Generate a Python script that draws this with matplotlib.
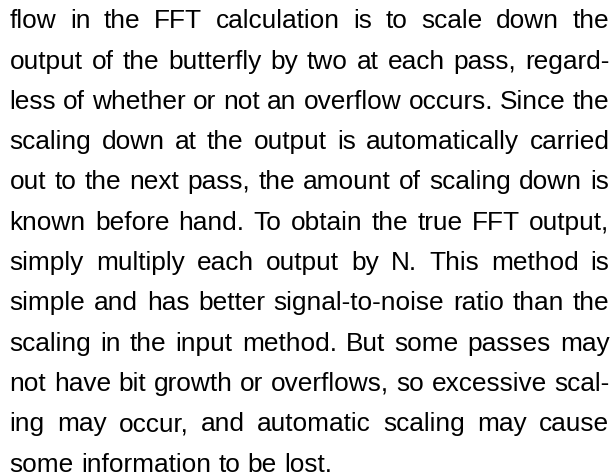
import matplotlib
matplotlib.use("Agg")
import matplotlib.pyplot as plt

lines = [
    "flow in the FFT calculation is to scale down the",
    "output of the butterfly by two at each pass, regard-",
    "less of whether or not an overflow occurs. Since the",
    "scaling down at the output is automatically carried",
    "out to the next pass, the amount of scaling down is",
    "known before hand. To obtain the true FFT output,",
    "simply multiply each output by N. This method is",
    "simple and has better signal-to-noise ratio than the",
    "scaling in the input method. But some passes may",
    "not have bit growth or overflows, so excessive scal-",
    "ing may occur, and automatic scaling may cause",
    "some information to be lost.",
]

W, H = 616, 477
DPI = 100
fig = plt.figure(figsize=(W / DPI, H / DPI), dpi=DPI)
fig.patch.set_facecolor("white")

FONT = "Liberation Sans"
SIZE = 18.9
LEFT, RIGHT = 9.5, 609.5
BASE0, PITCH = 28.3, 40.3

renderer = fig.canvas.get_renderer()

def width_of(s):
    t = fig.text(0, 0, s, fontsize=SIZE, family=FONT)
    w = t.get_window_extent(renderer).width
    t.remove()
    return w

space_w = width_of("a a") - width_of("aa")

for i, line in enumerate(lines):
    words = line.split(" ")
    widths = [width_of(w) for w in words]
    y = BASE0 + i * PITCH
    if i == len(lines) - 1 or len(words) == 1:
        gap = space_w
    else:
        gap = (RIGHT - LEFT - sum(widths)) / (len(words) - 1)
    x = LEFT
    for w, ww in zip(words, widths):
        fig.text(x / W, 1 - y / H, w, fontsize=SIZE, family=FONT,
                 ha="left", va="baseline", color="black")
        x += ww + gap

fig.savefig("out.png", dpi=DPI, facecolor="white")
